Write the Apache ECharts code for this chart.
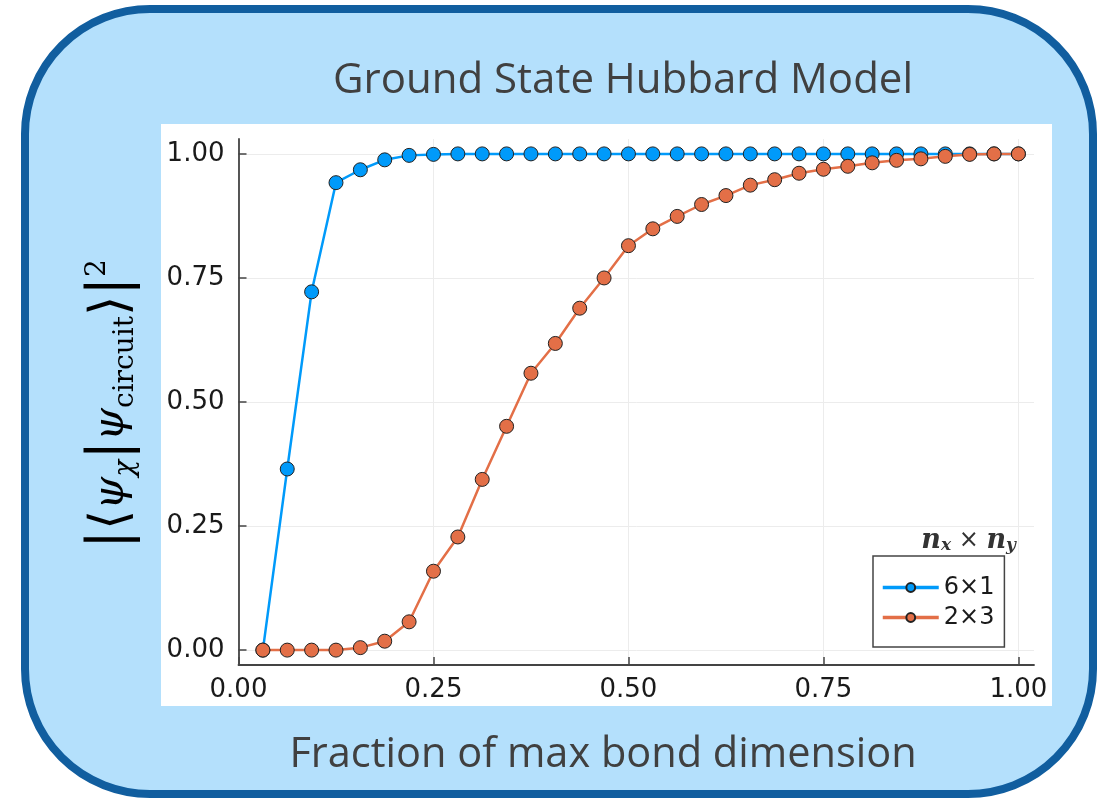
<!DOCTYPE html>
<html>
<head>
<meta charset="utf-8">
<script src="https://cdn.jsdelivr.net/npm/echarts@6/dist/echarts.min.js"></script>
<style>
  html, body { margin: 0; padding: 0; background: #ffffff; }
  #chart { width: 1109px; height: 802px; }
</style>
</head>
<body>
<div id="chart"></div>
<script>
// ---- data ----
const titleText = 'Ground State Hubbard Model';
const xLabelText = 'Fraction of max bond dimension';
const seriesNames = ['6×1', '2×3'];
const xValues = [0.03125, 0.0625, 0.09375, 0.125, 0.15625, 0.1875, 0.21875, 0.25,
  0.28125, 0.3125, 0.34375, 0.375, 0.40625, 0.4375, 0.46875, 0.5,
  0.53125, 0.5625, 0.59375, 0.625, 0.65625, 0.6875, 0.71875, 0.75,
  0.78125, 0.8125, 0.84375, 0.875, 0.90625, 0.9375, 0.96875, 1.0];
const values6x1 = [0.0, 0.365, 0.722, 0.942, 0.968, 0.988, 0.997, 0.999,
  1.0, 1.0, 1.0, 1.0, 1.0, 1.0, 1.0, 1.0,
  1.0, 1.0, 1.0, 1.0, 1.0, 1.0, 1.0, 1.0,
  1.0, 1.0, 1.0, 1.0, 1.0, 1.0, 1.0, 1.0];
const values2x3 = [0.0, 0.0, 0.0, 0.0, 0.005, 0.018, 0.057, 0.159,
  0.228, 0.344, 0.451, 0.558, 0.618, 0.689, 0.750, 0.815,
  0.849, 0.874, 0.898, 0.916, 0.937, 0.948, 0.961, 0.969,
  0.975, 0.982, 0.987, 0.990, 0.995, 0.999, 1.0, 1.0];
const tickValues = [0, 0.25, 0.5, 0.75, 1.0];

// ---- chart ----
const chart = echarts.init(document.getElementById('chart'), null, { renderer: 'canvas' });
const pairs = (ys) => xValues.map((x, i) => [x, ys[i]]);
const colors = ['#009AFA', '#E36F47'];
const tickFont = { fontFamily: 'DejaVu Sans', fontSize: 26, color: '#1a1a1a' };
const fmt = (v) => Number(v).toFixed(2);

const option = {
  animation: false,
  backgroundColor: '#ffffff',
  graphic: [
    { type: 'rect', z: -10, silent: true,
      shape: { x: 25, y: 9, width: 1068, height: 785, r: 125 },
      style: { fill: '#b4e0fc', stroke: '#115e9f', lineWidth: 8 } },
    { type: 'rect', z: -9, silent: true,
      shape: { x: 161, y: 124, width: 891, height: 582 },
      style: { fill: '#ffffff' } },
    { type: 'text', z: 5, silent: true, x: 623, y: 81,
      style: { text: titleText, fontFamily: 'Open Sans', fontSize: 42, fill: '#404040',
               align: 'center', verticalAlign: 'middle' } },
    { type: 'text', z: 5, silent: true, x: 603, y: 755,
      style: { text: xLabelText, fontFamily: 'Open Sans', fontSize: 41.5, fill: '#404040',
               align: 'center', verticalAlign: 'middle' } },
    { type: 'text', z: 5, silent: true, x: 112, y: 404, rotation: Math.PI / 2,
      style: {
        text: '{bar|\u007C}{br|⟨}{psi|ψ}{sub|χ}{bar|\u007C}{psi|ψ}{subr|circuit}{br|⟩}{bar|\u007C}{sup|2}',
        align: 'center', verticalAlign: 'middle', fill: '#000',
        rich: {
          bar: { fontFamily: 'DejaVu Serif', fontSize: 56, fill: '#000', verticalAlign: 'middle' },
          br: { fontFamily: 'DejaVu Serif', fontSize: 52, fill: '#000', verticalAlign: 'middle' },
          psi: { fontFamily: 'DejaVu Serif', fontStyle: 'italic', fontSize: 42, fill: '#000', verticalAlign: 'middle' },
          sub: { fontFamily: 'DejaVu Serif', fontStyle: 'italic', fontSize: 28, fill: '#000', verticalAlign: 'bottom' },
          subr: { fontFamily: 'DejaVu Serif', fontSize: 28, fill: '#000', verticalAlign: 'bottom' },
          sup: { fontFamily: 'DejaVu Serif', fontSize: 28, fill: '#000', verticalAlign: 'top' }
        }
      } },
    { type: 'text', z: 5, silent: true, x: 1016, y: 541,
      style: {
        text: '{n|n}{s|x}{m| × }{n|n}{s|y}',
        align: 'right', verticalAlign: 'middle', fill: '#333',
        rich: {
          n: { fontFamily: 'DejaVu Serif', fontStyle: 'italic', fontWeight: 'bold', fontSize: 27, fill: '#333', verticalAlign: 'middle' },
          s: { fontFamily: 'DejaVu Serif', fontStyle: 'italic', fontWeight: 'bold', fontSize: 17, fill: '#333', verticalAlign: 'bottom' },
          m: { fontFamily: 'DejaVu Sans', fontSize: 24, fill: '#333', verticalAlign: 'middle' }
        }
      } }
  ],
  grid: { left: 238.5, right: 75, top: 139, bottom: 137, containLabel: false },
  xAxis: {
    type: 'value', min: 0, max: 1.02,
    axisLine: { onZero: false, lineStyle: { color: '#444', width: 1.8 } },
    axisTick: { inside: true, length: 8, customValues: tickValues, lineStyle: { color: '#444', width: 1.5 } },
    axisLabel: Object.assign({ customValues: tickValues, margin: 12, formatter: fmt }, tickFont),
    splitLine: { show: true, customValues: tickValues, lineStyle: { color: '#ececec', width: 1 } }
  },
  yAxis: {
    type: 'value', min: -0.03, max: 1.03,
    axisLine: { show: true, onZero: false, lineStyle: { color: '#444', width: 1.8 } },
    axisTick: { show: true, inside: true, length: 8, customValues: tickValues, lineStyle: { color: '#444', width: 1.5 } },
    axisLabel: Object.assign({ customValues: tickValues, margin: 14, formatter: fmt }, tickFont),
    splitLine: { show: true, customValues: tickValues, lineStyle: { color: '#ececec', width: 1 } }
  },
  legend: {
    orient: 'vertical', left: 873, top: 556,
    data: seriesNames,
    padding: [18, 10, 16, 8],
    itemWidth: 56, itemHeight: 11, itemGap: 3,
    backgroundColor: '#ffffff', borderColor: '#444', borderWidth: 1.5, borderRadius: 0,
    lineStyle: { width: 3.5 },
    textStyle: { fontFamily: 'DejaVu Sans', fontSize: 24, color: '#1a1a1a', lineHeight: 27 }
  },
  series: [
    { name: seriesNames[0], type: 'line', data: pairs(values6x1),
      symbol: 'circle', symbolSize: 14,
      lineStyle: { color: colors[0], width: 2.5 },
      itemStyle: { color: colors[0], borderColor: '#222', borderWidth: 1 } },
    { name: seriesNames[1], type: 'line', data: pairs(values2x3),
      symbol: 'circle', symbolSize: 14,
      lineStyle: { color: colors[1], width: 2.5 },
      itemStyle: { color: colors[1], borderColor: '#222', borderWidth: 1 } }
  ]
};
chart.setOption(option);
</script>
</body>
</html>
